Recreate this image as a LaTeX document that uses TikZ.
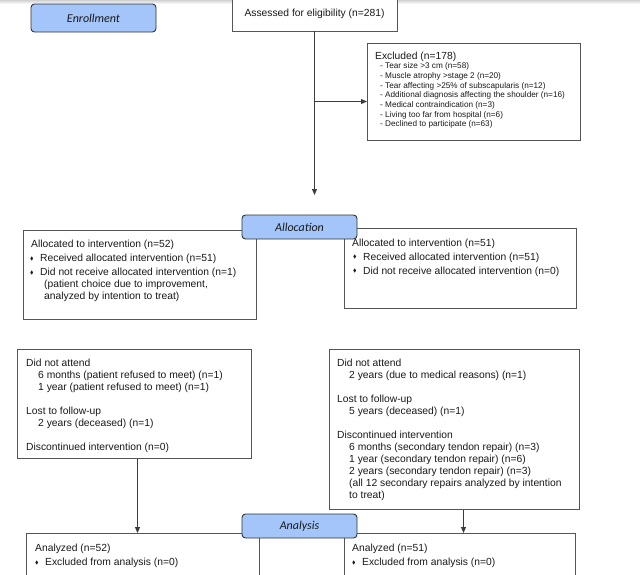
\documentclass[tikz,border=0pt]{standalone}
\usepackage{fontspec}
\setmainfont{Liberation Sans}
\newfontfamily\stagefont{Carlito}
\usepackage{amssymb}
\usepackage{graphicx}
\usetikzlibrary{arrows.meta,calc}
\definecolor{stagefill}{RGB}{163,197,250}
\definecolor{stageline}{RGB}{50,50,50}
\definecolor{boxline}{RGB}{85,85,85}
\definecolor{arrowc}{RGB}{60,60,60}
\definecolor{txtc}{RGB}{25,25,25}
\newcommand{\bul}{\makebox[10pt][l]{\raisebox{1.7pt}{\scalebox{0.5}{$\blacklozenge$}}}}
\newcommand{\ind}{\hspace*{12pt}}
\tikzset{
  box/.style={draw=boxline, line width=0.9pt, fill=white, inner sep=0pt, anchor=north west},
  stage/.style={draw=stageline, line width=0.9pt, fill=stagefill, rounded corners=3.5pt, inner sep=0pt, text=txtc, font=\stagefont\itshape\fontsize{12}{14}\selectfont},
  txt/.style={inner sep=0pt, anchor=north west, align=left, text=txtc, font=\fontsize{10.3}{12}\selectfont},
  smalltxt/.style={inner sep=0pt, anchor=north west, align=left, text=txtc, font=\fontsize{8.2}{9.7}\selectfont},
  arr/.style={draw=arrowc, line width=0.9pt, -{Triangle[length=6pt,width=5pt]}},
}
\begin{document}
\begin{tikzpicture}[x=1pt,y=-1pt]
\useasboundingbox (0,0) rectangle (640,574);
\clip (0,0) rectangle (640,574);
\fill[white] (0,0) rectangle (640,574);
\shade[top color=gray!35, bottom color=white] (0,0) rectangle (640,4);

% enrollment
\node[stage, minimum width=125pt, minimum height=28pt] (enroll) at (93.5,18) {Enrollment};
\node[box, anchor=center, minimum width=165pt, minimum height=35pt, font=\fontsize{10.3}{12}\selectfont, text=txtc] (assess) at (314.5,13.5) {Assessed for eligibility (n=281)};
\node[box, minimum width=213pt, minimum height=97pt] (excl) at (367,43) {};
\node[txt] (exclt) at (375,52.3) {Excluded (n=178)};
\node[smalltxt] (excll) at (380,62.5) {- Tear size >3 cm (n=58)\\
- Muscle atrophy >stage 2 (n=20)\\
- Tear affecting >25\% of subscapularis (n=12)\\
- Additional diagnosis affecting the shoulder (n=16)\\
- Medical contraindication (n=3)\\
- Living too far from hospital (n=6)\\
- Declined to participate (n=63)};
\coordinate (tip) at (314.5,195);
\coordinate (br) at (314.5,101.5);
\draw[arr] (assess.south) -- (tip);
\draw[arr] (br) -- (br -| excl.west);

% allocation
\node[box, minimum width=233pt, minimum height=89pt] (alL) at (23,230) {};
\node[box, minimum width=232pt, minimum height=80pt] (alR) at (344,228) {};
\node[stage, minimum width=115pt, minimum height=24pt] (alloc) at (299.5,227) {Allocation};
\node[txt] (alLt) at (31,240.2) {Allocated to intervention (n=52)\\[2pt]
\hspace*{-1pt}\bul Received allocated intervention (n=51)\\[2pt]
\hspace*{-1pt}\bul Did not receive allocated intervention (n=1)\\
\hspace*{13pt}(patient choice due to improvement,\\
\hspace*{13pt}analyzed by intention to treat)};
\node[txt] (alRt) at (352,238.7) {Allocated to intervention (n=51)\\[2pt]
\hspace*{1pt}\bul Received allocated intervention (n=51)\\[2pt]
\hspace*{1pt}\bul Did not receive allocated intervention (n=0)};

% follow-up
\node[box, minimum width=234pt, minimum height=109pt] (fuL) at (17,349) {};
\node[box, minimum width=250pt, minimum height=160pt] (fuR) at (329,349) {};
\node[txt] (fuLt) at (26,359.2) {Did not attend\\
\ind 6 months (patient refused to meet) (n=1)\\
\ind 1 year (patient refused to meet) (n=1)\\[12pt]
Lost to follow-up\\
\ind 2 years (deceased) (n=1)\\[12pt]
Discontinued intervention (n=0)};
\node[txt] (fuRt) at (337,359.2) {Did not attend\\
\ind 2 years (due to medical reasons) (n=1)\\[12pt]
Lost to follow-up\\
\ind 5 years (deceased) (n=1)\\[12pt]
Discontinued intervention\\
\ind 6 months (secondary tendon repair) (n=3)\\
\ind 1 year (secondary tendon repair) (n=6)\\
\ind 2 years (secondary tendon repair) (n=3)\\
\ind (all 12 secondary repairs analyzed by intention\\
\ind to treat)};

% analysis
\node[box, minimum width=233pt, minimum height=60pt] (anL) at (26,533) {};
\node[box, minimum width=231pt, minimum height=60pt] (anR) at (344,533) {};
\node[stage, minimum width=115pt, minimum height=24pt] (analysis) at (299.5,526) {Analysis};
\node[txt] (anLt) at (35,544.2) {Analyzed (n=52)\\[2pt]
\bul Excluded from analysis (n=0)};
\node[txt] (anRt) at (352,544.2) {Analyzed (n=51)\\[2pt]
\bul Excluded from analysis (n=0)};
\coordinate (xL) at (137.5,0);
\coordinate (xR) at (463.5,0);
\draw[arr] (fuL.south -| xL) -- (anL.north -| xL);
\draw[arr] (fuR.south -| xR) -- (anR.north -| xR);
\end{tikzpicture}
\end{document}
